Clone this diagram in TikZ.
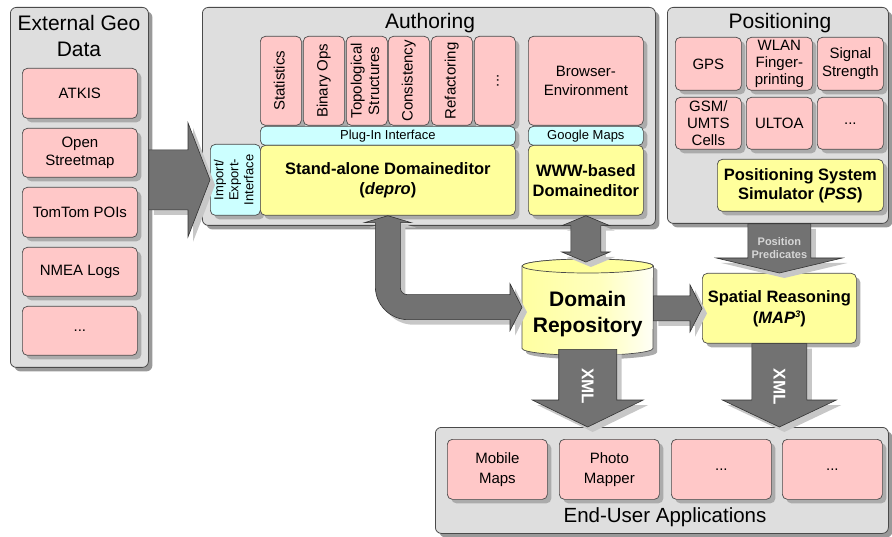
\documentclass[tikz,border=0pt]{standalone}
\usepackage{fontspec}
\setmainfont{Liberation Sans}
\usepackage{graphicx}
\usetikzlibrary{shadows,calc,backgrounds}
\definecolor{panelc}{HTML}{DEDEDE}
\definecolor{pinkc}{HTML}{FFC8C8}
\definecolor{yellowc}{HTML}{FFFF9C}
\definecolor{cyanc}{HTML}{CCFFFF}
\definecolor{arrowc}{HTML}{727272}
\definecolor{edgec}{HTML}{4A4A4A}
\definecolor{predc}{HTML}{D6D6D6}
\colorlet{cylmid}{yellowc!65!white}
\colorlet{cylright}{yellowc!55!white}
\pgfdeclarehorizontalshading{cylshade}{100bp}{color(0bp)=(yellowc); color(20bp)=(yellowc); color(55bp)=(cylmid); color(78bp)=(white); color(100bp)=(cylright)}
\newcommand\fs[2]{\fontsize{#1}{#2}\selectfont}
\newcommand\vt[1]{\rotatebox{90}{\begin{tabular}{@{}c@{}}#1\end{tabular}}}
\newcommand\fatright[5]{\path[fatarrow] let \p1=(#1), \p2=(#2) in (\x1,\y2+#3) -- (\x2-#5,\y2+#3) -- (\x2-#5,\y2+#4) -- (\x2,\y2) -- (\x2-#5,\y2-#4) -- (\x2-#5,\y2-#3) -- (\x1,\y2-#3) -- cycle;}
\newcommand\fatdown[5]{\path[fatarrow] let \p1=(#1), \p2=(#2) in (\x2-#3,\y1) -- (\x2+#3,\y1) -- (\x2+#3,\y2+#5) -- (\x2+#4,\y2+#5) -- (\x2,\y2) -- (\x2-#4,\y2+#5) -- (\x2-#3,\y2+#5) -- cycle;}
\newcommand\fatvdouble[5]{\path[fatarrow] let \p1=(#1), \p2=(#2) in (\x1,\y1) -- (\x1+#4,\y1-#5) -- (\x1+#3,\y1-#5) -- (\x1+#3,\y2+#5) -- (\x1+#4,\y2+#5) -- (\x1,\y2) -- (\x1-#4,\y2+#5) -- (\x1-#3,\y2+#5) -- (\x1-#3,\y1-#5) -- (\x1-#4,\y1-#5) -- cycle;}
\tikzset{
  panel/.style={draw=edgec, fill=panelc, rounded corners=6pt, line width=0.8pt, anchor=north west, inner sep=0pt,
    drop shadow={shadow xshift=4pt, shadow yshift=-4pt, fill=black!40, opacity=1}},
  box/.style={draw=edgec, rounded corners=5pt, line width=0.7pt, inner sep=0pt, align=center, anchor=north west,
    drop shadow={shadow xshift=4pt, shadow yshift=-4pt, fill=black!33, opacity=1}},
  pink/.style={box, fill=pinkc, font=\fs{15}{18.5}},
  cyanbox/.style={box, fill=cyanc, font=\fs{13}{15}},
  yel/.style={box, fill=yellowc, font=\bfseries\fs{16.5}{20}},
  title/.style={align=center, inner sep=0pt, font=\fs{21}{26}},
  fatarrow/.style={fill=arrowc, draw=black!80, line width=0.6pt, line join=miter,
    drop shadow={shadow xshift=5pt, shadow yshift=-5pt, fill=black!22, opacity=1}},
  cyl/.style={shade, shading=cylshade, draw=edgec, line width=0.7pt,
    drop shadow={shadow xshift=4pt, shadow yshift=-4pt, fill=black!33, opacity=1}},
  xmllabel/.style={text=white, font=\bfseries\fs{17}{20}, inner sep=0pt},
  pplabel/.style={text=predc, font=\bfseries\fs{11}{13}, align=center, inner sep=0pt}
}
\begin{document}
\begin{tikzpicture}[x=1pt,y=-1pt]
\useasboundingbox (0,0) rectangle (892,537);
% panels
\node[panel, minimum width=138, minimum height=360] (ext) at (10,7) {};
\node[panel, minimum width=453, minimum height=218] (auth) at (202,7) {};
\node[panel, minimum width=221, minimum height=216] (pos) at (667,7) {};
\node[panel, minimum width=453, minimum height=106] (apps) at (435,427) {};
\node[title] (extT) at (79,36) {External Geo\\Data};
\node[title] (authT) at (430,23) {Authoring};
\node[title] (posT) at (780,23) {Positioning};
\node[title, font=\fs{20.5}{24}] (appsT) at (665,517) {End-User Applications};
% external geo data
\node[pink, minimum width=115, minimum height=50] (atkis) at (22,68) {ATKIS};
\node[pink, minimum width=115, minimum height=49] (osm) at (22,128) {Open\\Streetmap};
\node[pink, minimum width=115, minimum height=50] (tomtom) at (22,187) {TomTom POIs};
\node[pink, minimum width=115, minimum height=49] (nmea) at (22,247) {NMEA Logs};
\node[pink, minimum width=115, minimum height=49] (extmore) at (22,306) {...};
% authoring
\node[pink, minimum width=41, minimum height=89] (stat) at (260,36) {\vt{Statistics}};
\node[pink, minimum width=41, minimum height=89] (binops) at (303,36) {\vt{Binary Ops}};
\node[pink, minimum width=41, minimum height=89, font=\fs{15}{17.5}] (topo) at (346,36) {\vt{Topological\\Structures}};
\node[pink, minimum width=41, minimum height=89] (cons) at (388,36) {\vt{Consistency}};
\node[pink, minimum width=41, minimum height=89] (refac) at (431,36) {\vt{Refactoring}};
\node[pink, minimum width=41, minimum height=89] (plmore) at (474,36) {\vt{...}};
\node[cyanbox, minimum width=255, minimum height=19] (plugin) at (260,126) {Plug-In Interface};
\node[cyanbox, minimum width=50, minimum height=71] (imp) at (210,144) {\vt{Import/\\Export-\\Interface}};
\node[yel, minimum width=255, minimum height=70] (sa) at (260,145) {Stand-alone Domaineditor\\(\textit{depro})};
\node[pink, minimum width=115, minimum height=89] (browser) at (528,36) {Browser-\\Environment};
\node[cyanbox, minimum width=115, minimum height=19] (gmaps) at (528,126) {Google Maps};
\node[yel, minimum width=115, minimum height=70] (www) at (528,145) {WWW-based\\Domaineditor};
% positioning
\node[pink, minimum width=66, minimum height=53, font=\fs{15}{17}] (gps) at (675,37) {GPS};
\node[pink, minimum width=66, minimum height=53, font=\fs{15}{17}] (wlan) at (746,37) {WLAN\\Finger-\\printing};
\node[pink, minimum width=66, minimum height=53, font=\fs{15}{17.5}] (signal) at (817,37) {Signal\\Strength};
\node[pink, minimum width=66, minimum height=52, font=\fs{15}{17}] (gsm) at (675,97) {GSM/\\UMTS\\Cells};
\node[pink, minimum width=66, minimum height=52] (ultoa) at (746,97) {ULTOA};
\node[pink, minimum width=66, minimum height=52] (posmore) at (817,97) {...};
\node[yel, minimum width=166, minimum height=52, font=\bfseries\fs{16.5}{19}] (pss) at (717,159) {Positioning System\\Simulator (\textit{PSS})};
% spatial reasoning and repository
\node[yel, minimum width=154, minimum height=70, font=\bfseries\fs{16.5}{21}] (sp) at (702,273) {Spatial Reasoning\\(\textit{MAP}\raisebox{5.5pt}{\fs{9.5}{10}\textit{3}})};
\node[anchor=north west, minimum width=131, minimum height=96, inner sep=0pt, align=center, font=\bfseries\fs{21}{26}] (dr) at (522,259) {\\[3pt]Domain\\Repository};
\begin{pgfonlayer}{background}
\path[cyl] let \p1=(dr.north west), \p2=(dr.south east) in (\x1,\y1-7pt) -- (\x1,\y2+7pt) arc[start angle=180,end angle=360,x radius=65.5pt,y radius=7pt] -- (\x2,\y1-7pt) arc[start angle=0,end angle=180,x radius=65.5pt,y radius=7pt] -- cycle;
\path[draw=edgec, fill=yellowc, line width=0.7pt] let \p1=(dr.north) in (\x1,\y1-7pt) ellipse [x radius=65.5pt, y radius=7pt];
\end{pgfonlayer}
% end-user applications
\node[pink, minimum width=100, minimum height=60, font=\fs{15}{20}] (mobile) at (447,439) {Mobile\\Maps};
\node[pink, minimum width=100, minimum height=60, font=\fs{15}{20}] (photo) at (559,439) {Photo\\Mapper};
\node[pink, minimum width=100, minimum height=60] (app3) at (671,439) {...};
\node[pink, minimum width=100, minimum height=60] (app4) at (782,439) {...};
% arrows
\fatright{ext.east}{imp.west}{30pt}{57pt}{22pt}
\fatdown{pos.south}{sp.north}{31.5pt}{63pt}{15pt}
\fatright{dr.east}{sp.west}{12.5pt}{23.5pt}{12pt}
\fatvdouble{www.south}{$(dr.north)+(0,3)$}{15pt}{24pt}{10pt}
\fatdown{$(dr.south)+(0,-6)$}{apps.north -| dr.south}{29pt}{55.5pt}{27pt}
\fatdown{sp.south}{apps.north -| sp.south}{27.5pt}{57pt}{27pt}
\path[fatarrow] let \p1=(sa.south), \p2=(dr.west) in
 (\x1,\y1) -- (\x1+23.5pt,\y1-7pt) -- (\x1+12.5pt,\y1-7pt) -- (\x1+12.5pt,\y2+19.5pt)
 arc[start angle=180,end angle=270,radius=7pt] -- (\x2-12pt,\y2+12.5pt) -- (\x2-12pt,\y2+23.5pt)
 -- (\x2,\y2) -- (\x2-12pt,\y2-23.5pt) -- (\x2-12pt,\y2-12.5pt) -- (\x1+20.5pt,\y2-12.5pt)
 arc[start angle=270,end angle=180,radius=33pt] -- (\x1-12.5pt,\y1-7pt) -- (\x1-23.5pt,\y1-7pt) -- cycle;
% arrow labels
\node[pplabel] (pp) at ($(sp.north)+(0,-25)$) {Position\\Predicates};
\node[xmllabel, rotate=-90] (xml1) at ($(dr.south)+(0,31)$) {XML};
\node[xmllabel, rotate=-90] (xml2) at ($(sp.south)+(0,43)$) {XML};
\end{tikzpicture}
\end{document}
